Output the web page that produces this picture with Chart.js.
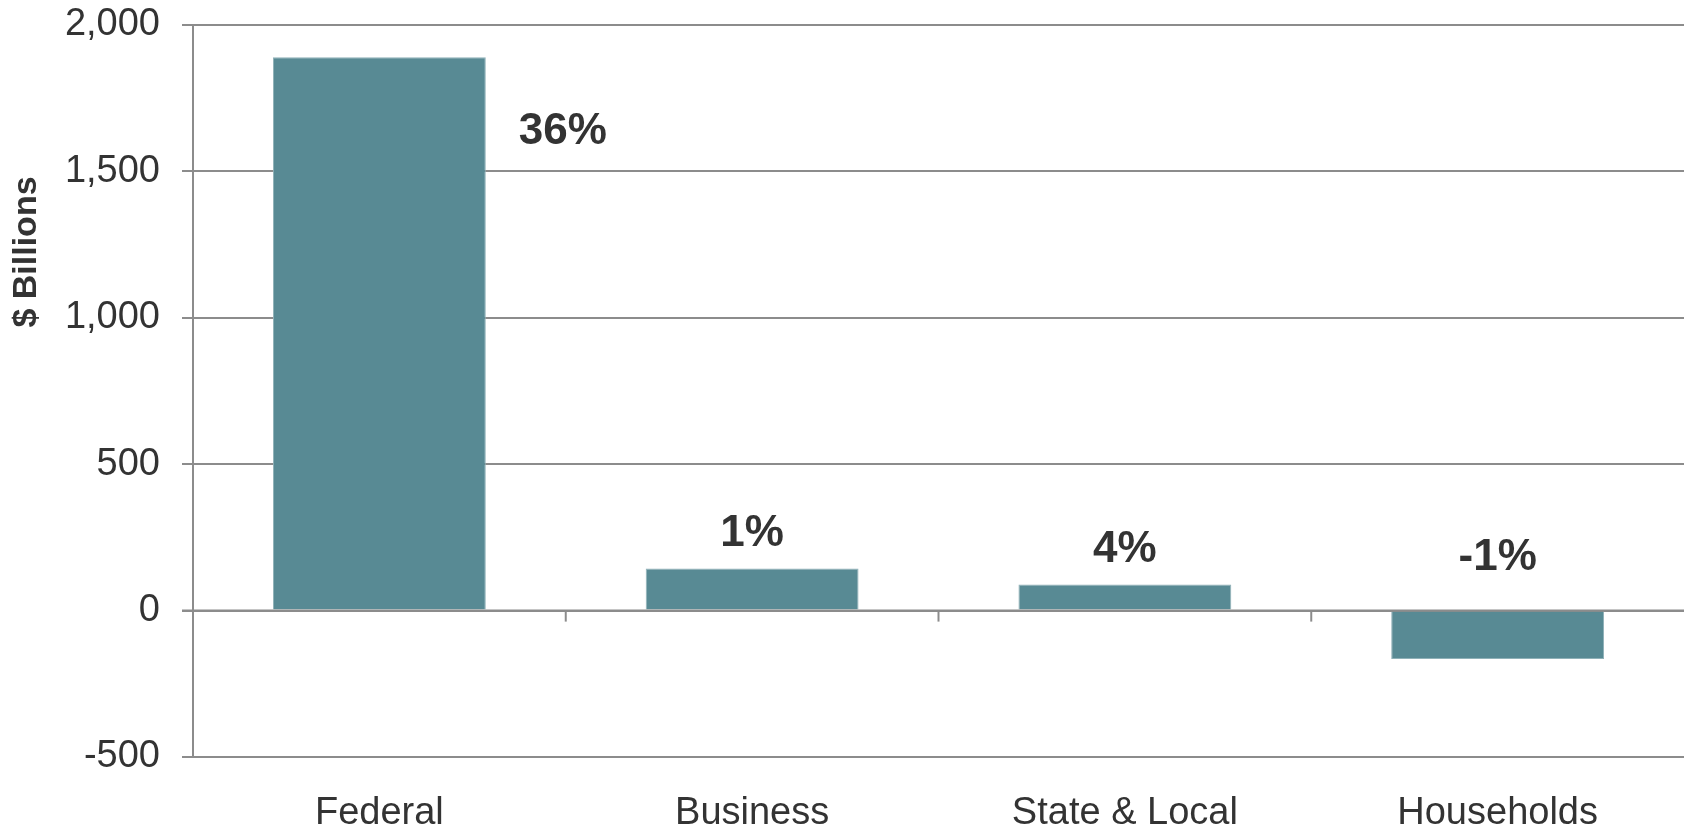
<!DOCTYPE html>
<html>
<head>
<meta charset="utf-8">
<script src="https://cdn.jsdelivr.net/npm/chart.js@4.4.0/dist/chart.umd.min.js"></script>
<style>
    html, body { margin: 0; padding: 0; background: #ffffff; }
    #wrap { width: 1684px; height: 829px; position: relative; }
</style>
</head>
<body>
<div id="wrap"><canvas id="chart"></canvas></div>
<script>
// =============================
// DATA
// =============================
const categories = ["Federal", "Business", "State & Local", "Households"];
const values = [1890, 144, 89, -165];
const shareLabels = ["36%", "1%", "4%", "-1%"];
const yTicks = [-500, 0, 500, 1000, 1500, 2000];

const FONT = "'Liberation Sans', Arial, Helvetica, sans-serif";
const TEXT = "#333333";
const GRID = "#8c8c8c";
const BAR = "#588a94";

// =============================
// PLUGINS
// =============================
// small tick marks between categories, hanging off the zero line
const zeroTicks = {
    id: "zeroTicks",
    afterDatasetsDraw(chart) {
        const { ctx, scales: { x, y } } = chart;
        const y0 = y.getPixelForValue(0);
        ctx.save();
        ctx.strokeStyle = GRID;
        ctx.lineWidth = 2;
        // zero line on top of bars
        ctx.beginPath();
        ctx.moveTo(chart.chartArea.left - 11, y0);
        ctx.lineTo(chart.chartArea.right, y0);
        ctx.stroke();
        for (let i = 0; i < categories.length - 1; i++) {
            const px = (x.getPixelForValue(i) + x.getPixelForValue(i + 1)) / 2;
            ctx.beginPath();
            ctx.moveTo(px, y0);
            ctx.lineTo(px, y0 + 11);
            ctx.stroke();
        }
        ctx.restore();
    }
};

// percent labels above / beside the bars
const shareLabelPlugin = {
    id: "shareLabels",
    afterDatasetsDraw(chart) {
        const { ctx, scales: { y } } = chart;
        const meta = chart.getDatasetMeta(0);
        const y0 = y.getPixelForValue(0);
        ctx.save();
        ctx.font = "bold 44px " + FONT;
        ctx.fillStyle = TEXT;
        ctx.textAlign = "center";
        ctx.textBaseline = "middle";
        meta.data.forEach((bar, i) => {
            const v = values[i];
            let lx = bar.x;
            let ly;
            if (v > 1000) {
                // tall bar: label sits to its right, below the top
                lx = bar.x + bar.width / 2 + 77;
                ly = bar.y + 75;
            } else if (v >= 0) {
                ly = bar.y - 35;
            } else {
                ly = y0 - 53;
            }
            ctx.fillText(shareLabels[i], lx, ly);
        });
        ctx.restore();
    }
};

// rotated y axis title
const yTitle = {
    id: "yTitle",
    afterDraw(chart) {
        const { ctx } = chart;
        ctx.save();
        ctx.translate(27, 252);
        ctx.rotate(-Math.PI / 2);
        ctx.font = "bold 34px " + FONT;
        ctx.fillStyle = TEXT;
        ctx.textAlign = "center";
        ctx.textBaseline = "middle";
        ctx.fillText("$ Billions", 0, 0);
        ctx.restore();
    }
};

// =============================
// CHART
// =============================
new Chart(document.getElementById("chart"), {
    type: "bar",
    data: {
        labels: categories,
        datasets: [{
            data: values,
            backgroundColor: BAR,
            borderColor: "#8fb1b8",
            borderWidth: 1,
            barPercentage: 0.571,
            categoryPercentage: 1.0
        }]
    },
    options: {
        responsive: true,
        maintainAspectRatio: false,
        animation: false,
        layout: { padding: { top: 25, right: 0, left: 0, bottom: 0 } },
        plugins: {
            legend: { display: false },
            tooltip: { enabled: false }
        },
        scales: {
            x: {
                grid: { display: false, drawTicks: false },
                border: { display: false },
                ticks: {
                    color: TEXT,
                    font: { family: FONT, size: 38 },
                    padding: 34,
                    maxRotation: 0
                },
                afterFit(scale) {
                    scale.height = 72;
                    scale.paddingLeft = 0;
                    scale.paddingRight = 0;
                }
            },
            y: {
                min: -500,
                max: 2000,
                afterBuildTicks(scale) {
                    scale.ticks = yTicks.map(v => ({ value: v }));
                },
                grid: {
                    color: GRID,
                    lineWidth: 2,
                    tickLength: 11
                },
                border: { display: true, color: GRID, width: 2 },
                ticks: {
                    color: TEXT,
                    font: { family: FONT, size: 38 },
                    padding: 22,
                    callback: v => v.toLocaleString("en-US")
                },
                afterFit(scale) {
                    scale.width = 193;
                    scale.paddingTop = 0;
                    scale.paddingBottom = 0;
                }
            }
        }
    },
    plugins: [zeroTicks, shareLabelPlugin, yTitle]
});
</script>
</body>
</html>
